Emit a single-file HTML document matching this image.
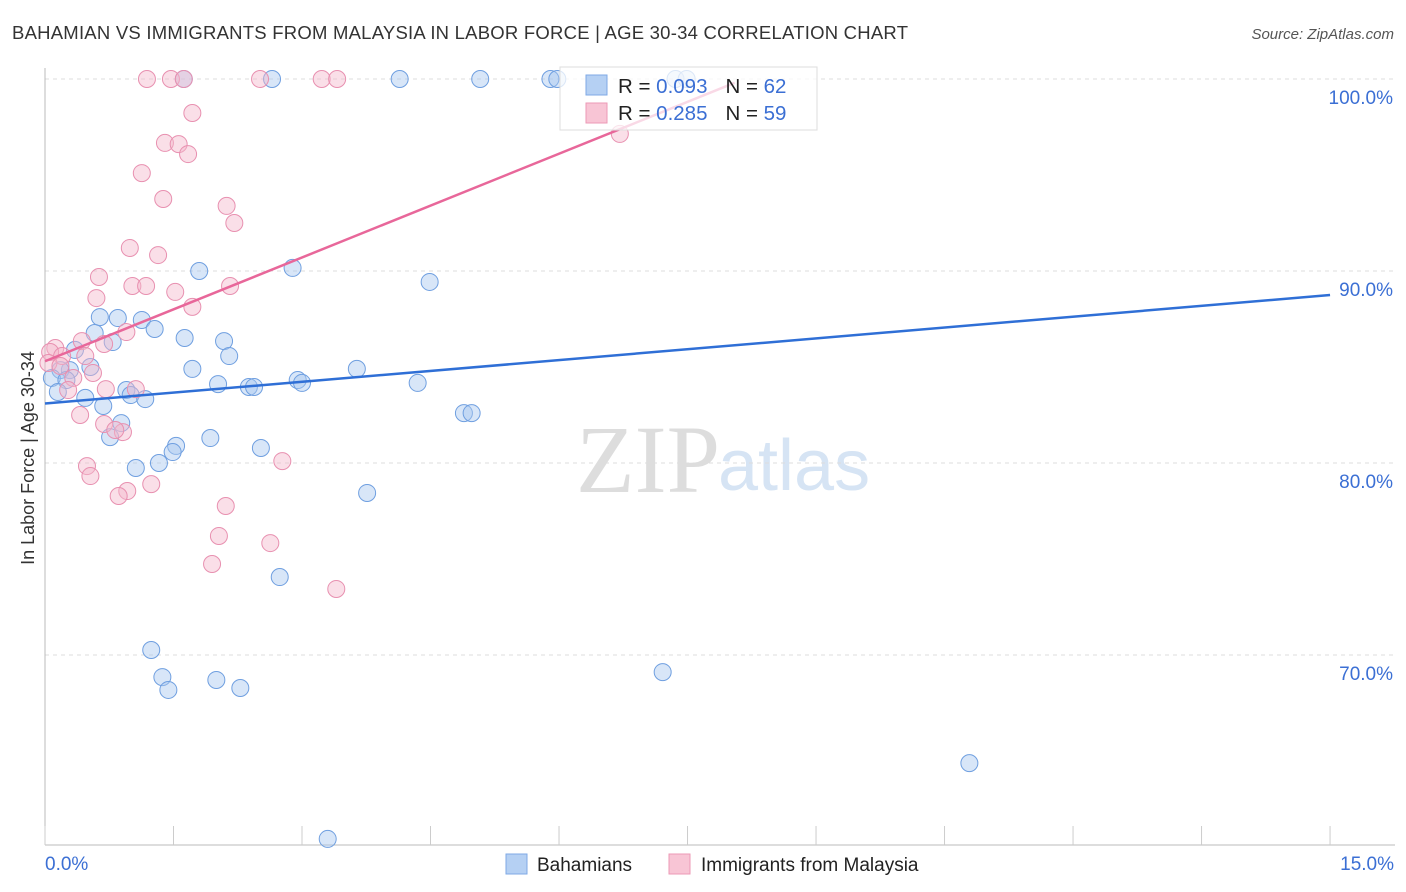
<!DOCTYPE html>
<html><head><meta charset="utf-8"><style>
body{margin:0;background:#fff;font-family:"Liberation Sans",sans-serif;}
svg{display:block}
</style></head><body>
<svg id="chart" width="1406" height="892">
<text x="12" y="39" font-size="18.5" fill="#333" textLength="896">BAHAMIAN VS IMMIGRANTS FROM MALAYSIA IN LABOR FORCE | AGE 30-34 CORRELATION CHART</text>
<text x="1394" y="39" font-size="15" fill="#555" font-style="italic" text-anchor="end">Source: ZipAtlas.com</text>
<text x="0" y="0" transform="translate(34,458) rotate(-90)" font-size="18" fill="#333" text-anchor="middle">In Labor Force | Age 30-34</text>
<text x="720" y="492" font-size="96" fill="#ddd" text-anchor="end" font-family="Liberation Serif,serif">ZIP</text>
<text x="718" y="490" font-size="72" fill="#d6e4f4">atlas</text>
<g id="grid"></g><g id="pts"></g><g id="lines"></g>
<g>
<rect x="560" y="67" width="257" height="63" fill="#fff" fill-opacity="0.75" stroke="#ddd"/>
<rect x="586" y="75" width="21" height="20" fill="#b5d0f3" stroke="#7fa9e6"/>
<rect x="586" y="103" width="21" height="20" fill="#f8c5d5" stroke="#ec99b6"/>
<text x="618" y="93" font-size="20.5" fill="#222">R = <tspan fill="#3b6fd4">0.093</tspan><tspan dx="18">N = </tspan><tspan fill="#3b6fd4">62</tspan></text>
<text x="618" y="120" font-size="20.5" fill="#222">R = <tspan fill="#3b6fd4">0.285</tspan><tspan dx="18">N = </tspan><tspan fill="#3b6fd4">59</tspan></text>
</g>
<g>
<rect x="506" y="854" width="21" height="20" fill="#b5d0f3" stroke="#7fa9e6"/>
<text x="537" y="871" font-size="19" fill="#222">Bahamians</text>
<rect x="669" y="854" width="21" height="20" fill="#f8c5d5" stroke="#ec99b6"/>
<text x="701" y="871" font-size="19" fill="#222">Immigrants from Malaysia</text>
</g>
<text x="45" y="870" font-size="19" fill="#3b6fd4">0.0%</text>
<text x="1394" y="870" font-size="19" fill="#3b6fd4" text-anchor="end">15.0%</text>
</svg>
<script>
const blueX=[1.62,2.65,4.14,5.08,5.90,5.98,7.36,7.49,1.80,2.89,4.49,0.64,0.85,1.13,1.28,0.58,1.63,2.09,0.79,0.35,2.15,1.72,0.53,0.29,0.18,0.08,0.25,2.02,2.38,2.44,2.95,3.00,3.64,4.35,0.95,1.00,0.15,0.47,1.17,0.68,4.89,4.98,0.89,0.76,1.93,1.53,1.49,2.52,1.33,1.06,3.76,2.74,1.24,1.37,2.00,1.44,2.28,7.21,10.79,3.30];
const blueY=[100,100,100,100,100,100,100,100,90.0,90.16,89.43,87.6,87.55,87.45,86.98,86.77,86.51,86.35,86.3,85.89,85.57,84.9,85.0,84.84,84.84,84.43,84.32,84.11,83.96,83.96,84.32,84.17,84.9,84.17,83.8,83.54,83.7,83.39,83.33,82.97,82.6,82.6,82.08,81.35,81.3,80.89,80.57,80.78,80.0,79.74,78.44,74.06,70.26,68.85,68.7,68.18,68.28,69.11,64.37,60.42];
const pinkX=[1.19,1.47,1.62,2.51,3.23,3.41,1.72,1.40,1.56,1.67,1.13,1.38,2.12,2.21,0.99,1.32,0.63,0.60,1.02,1.18,1.52,2.16,1.72,0.43,0.69,0.95,0.12,0.06,0.20,0.47,0.04,0.18,0.33,0.56,0.27,0.71,1.06,0.41,0.69,0.91,0.82,0.49,0.53,0.96,0.86,1.24,2.77,2.11,2.03,2.63,1.95,3.40,6.71];
const pinkY=[100,100,100,100,100,100,98.23,96.67,96.61,96.09,95.1,93.75,93.39,92.5,91.2,90.83,89.69,88.59,89.22,89.22,88.91,89.22,88.13,86.35,86.2,86.82,85.99,85.78,85.57,85.57,85.21,85.05,84.43,84.69,83.8,83.85,83.85,82.5,82.03,81.61,81.72,79.84,79.32,78.54,78.28,78.9,80.1,77.76,76.2,75.83,74.74,73.44,97.14];
const yTicks=[100,90,80,70];
const blueTrend=[83.1,88.75];
const pinkTrend=[[0,85.3],[8.05,99.8]];
const X=v=>45+v*85.67, Y=v=>79+(100-v)*19.2;
const NS="http://www.w3.org/2000/svg";
function mk(t,a,p){const e=document.createElementNS(NS,t);for(const k in a)e.setAttribute(k,a[k]);p.appendChild(e);return e;}
const grid=document.getElementById('grid');
yTicks.forEach(t=>{
 const l=mk('line',{x1:45,x2:1395,y1:Y(t),y2:Y(t),stroke:'#ddd','stroke-dasharray':'4,4'},grid);
 
 
 const tx=mk('text',{x:1393,y:Y(t)+25,'font-size':19,fill:'#3b6fd4','text-anchor':'end'},grid);
 tx.textContent=t.toFixed(1)+'%';
 
 
});
mk('line',{x1:45,x2:45,y1:68,y2:845,stroke:'#bbb'},grid);
mk('line',{x1:45,x2:1395,y1:845,y2:845,stroke:'#bbb'},grid);
for(let i=0;i<=10;i++){const x=X(i*1.5);const t=mk('line',{x1:x,x2:x,y1:826,y2:845,stroke:'#ccc'},grid);
 
 }
const pts=document.getElementById('pts');
blueX.forEach((v,i)=>{const c=mk('circle',{cx:X(v),cy:Y(blueY[i]),r:8.5,fill:'#a8c8f0','fill-opacity':0.45,stroke:'#6f9fe0','stroke-width':1},pts);
 
 });
pinkX.forEach((v,i)=>{const c=mk('circle',{cx:X(v),cy:Y(pinkY[i]),r:8.5,fill:'#f4b8cc','fill-opacity':0.45,stroke:'#e890b0','stroke-width':1},pts);
 
 });
const lines=document.getElementById('lines');
const bl=mk('line',{x1:X(0),y1:Y(blueTrend[0]),x2:X(15),y2:Y(blueTrend[1]),stroke:'#2f6fd6','stroke-width':2.5},lines);


const pl=mk('line',{x1:X(pinkTrend[0][0]),y1:Y(pinkTrend[0][1]),x2:X(pinkTrend[1][0]),y2:Y(pinkTrend[1][1]),stroke:'#e8679a','stroke-width':2.5},lines);


</script>
</body></html>
